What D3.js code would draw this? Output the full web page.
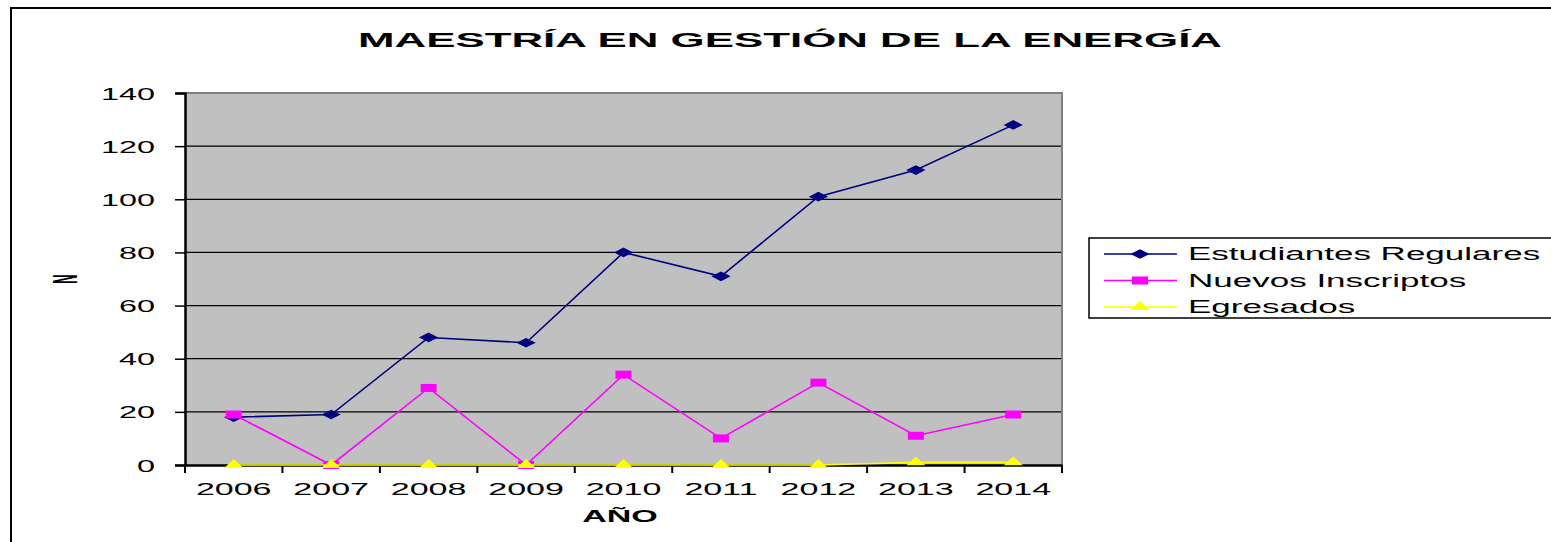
<!DOCTYPE html>
<html lang="es">
<head>
<meta charset="UTF-8">
<title>Maestría en Gestión de la Energía</title>
<style>
  body { margin: 0; background: #fff; font-family: "Liberation Sans", Arial, sans-serif; }
  svg text { font-family: "Liberation Sans", Arial, sans-serif; }
</style>
</head>
<body>
<svg width="1551" height="542"></svg>
<script src="https://d3js.org/d3.v7.min.js"></script>
<script>
  const years = ["2006", "2007", "2008", "2009", "2010", "2011", "2012", "2013", "2014"];
  const regulares = [18, 19, 48, 46, 80, 71, 101, 111, 128];
  const inscriptos = [19, 0, 29, 0, 34, 10, 31, 11, 19];
  const egresados = [0, 0, 0, 0, 0, 0, 0, 1, 1];
  const yTicks = [0, 20, 40, 60, 80, 100, 120, 140];

  // marcadores: simbolo d3 de tamaño 100, deformado para que quede ancho y bajo como en el original
  const series = [
    {name: "Estudiantes Regulares", values: regulares, color: "#000080", symbol: d3.symbolDiamond, sx: 1.8, sy: 0.52},
    {name: "Nuevos Inscriptos", values: inscriptos, color: "#FF00FF", symbol: d3.symbolSquare, sx: 1.6, sy: 0.8},
    {name: "Egresados", values: egresados, color: "#FFFF00", symbol: d3.symbolTriangle, sx: 1.25, sy: 0.68}
  ];

  const svg = d3.select("svg");
  const plot = {left: 185, top: 93, right: 1062, bottom: 465};

  // el original esta estirado en horizontal: se estira cada texto con textLength
  function stretch(sel, k) {
    sel.each(function() {
      const w = this.getComputedTextLength();
      d3.select(this).attr("textLength", w * k).attr("lengthAdjust", "spacingAndGlyphs");
    });
  }

  // marco exterior
  svg.append("rect")
    .attr("x", 11).attr("y", 8).attr("width", 1600).attr("height", 600)
    .attr("fill", "#fff").attr("stroke", "#000").attr("stroke-width", 2);

  const x = d3.scaleBand().domain(years).range([plot.left, plot.right]);
  const y = d3.scaleLinear().domain([0, 140]).range([plot.bottom, plot.top]);

  svg.append("rect")
    .attr("x", plot.left).attr("y", plot.top)
    .attr("width", plot.right - plot.left).attr("height", plot.bottom - plot.top)
    .attr("fill", "#C0C0C0");

  // lineas de grilla
  svg.append("g").selectAll("line").data(yTicks.filter(d => d > 0 && d < 140)).join("line")
    .attr("x1", plot.left).attr("x2", plot.right)
    .attr("y1", d => y(d)).attr("y2", d => y(d))
    .attr("stroke", "#000").attr("stroke-width", 1.2);

  // borde superior y derecho
  svg.append("path")
    .attr("d", `M${plot.left},${plot.top}H${plot.right}V${plot.bottom}`)
    .attr("fill", "none").attr("stroke", "#808080").attr("stroke-width", 2);

  // eje Y
  const yAxis = svg.append("g")
    .attr("transform", `translate(${plot.left},0)`)
    .call(d3.axisLeft(y).tickValues(yTicks).tickSize(10).tickPadding(20));
  yAxis.select(".domain").attr("stroke-width", 2.5);
  yAxis.selectAll(".tick line").attr("stroke-width", 1.5);
  yAxis.selectAll("text").attr("font-size", 17).attr("fill", "#000").attr("dy", "0.36em")
    .call(stretch, 1.9);

  // eje X
  const xAxis = svg.append("g")
    .attr("transform", `translate(0,${plot.bottom})`)
    .call(d3.axisBottom(x).tickSize(0).tickPadding(0));
  xAxis.select(".domain").attr("stroke-width", 2.5);
  xAxis.selectAll("text").attr("font-size", 17).attr("fill", "#000").attr("y", 30).attr("dy", 0)
    .call(stretch, 2.0);
  svg.append("g").selectAll("line").data(d3.range(years.length + 1)).join("line")
    .attr("x1", i => plot.left + i * x.bandwidth())
    .attr("x2", i => plot.left + i * x.bandwidth())
    .attr("y1", plot.bottom).attr("y2", plot.bottom + 8)
    .attr("stroke", "#000").attr("stroke-width", 2);

  // series (en orden: cada serie queda encima de la anterior)
  const cx = i => x(years[i]) + x.bandwidth() / 2;
  const line = d3.line().x((d, i) => cx(i)).y(d => y(d));
  series.forEach(s => {
    const g = svg.append("g");
    g.append("path").datum(s.values)
      .attr("d", line).attr("fill", "none")
      .attr("stroke", s.color).attr("stroke-width", 1.6);
    g.selectAll("path.m").data(s.values).join("path").attr("class", "m")
      .attr("transform", (d, i) => `translate(${cx(i)},${y(d)}) scale(${s.sx},${s.sy})`)
      .attr("d", d3.symbol().type(s.symbol).size(100))
      .attr("fill", s.color);
  });

  // titulo
  const title = svg.append("text")
    .attr("x", 790).attr("y", 47).attr("text-anchor", "middle")
    .attr("font-size", 20).attr("font-weight", "bold")
    .text("MAESTRÍA EN GESTIÓN DE LA ENERGÍA");
  title.attr("textLength", 864).attr("lengthAdjust", "spacingAndGlyphs");

  svg.append("text")
    .attr("x", 620).attr("y", 522).attr("text-anchor", "middle")
    .attr("font-size", 17).attr("font-weight", "bold")
    .text("AÑO")
    .call(stretch, 2.0);

  svg.append("text")
    .attr("transform", "translate(77,279) scale(2.7,1) rotate(-90)")
    .attr("text-anchor", "middle")
    .attr("font-size", 13).attr("font-weight", "bold")
    .text("N");

  // leyenda
  const legend = svg.append("g");
  legend.append("rect")
    .attr("x", 1089).attr("y", 238).attr("width", 500).attr("height", 80)
    .attr("fill", "#fff").attr("stroke", "#000").attr("stroke-width", 1.5);
  series.forEach((s, i) => {
    const ly = 254 + i * 26.5;
    legend.append("line")
      .attr("x1", 1104).attr("x2", 1177).attr("y1", ly).attr("y2", ly)
      .attr("stroke", s.color).attr("stroke-width", 1.5);
    legend.append("path")
      .attr("transform", `translate(1140,${ly}) scale(${s.sx},${s.sy})`)
      .attr("d", d3.symbol().type(s.symbol).size(100))
      .attr("fill", s.color);
    legend.append("text")
      .attr("x", 1188).attr("y", ly + 6)
      .attr("font-size", 17.5)
      .text(s.name)
      .call(stretch, 2.0);
  });
</script>
</body>
</html>
